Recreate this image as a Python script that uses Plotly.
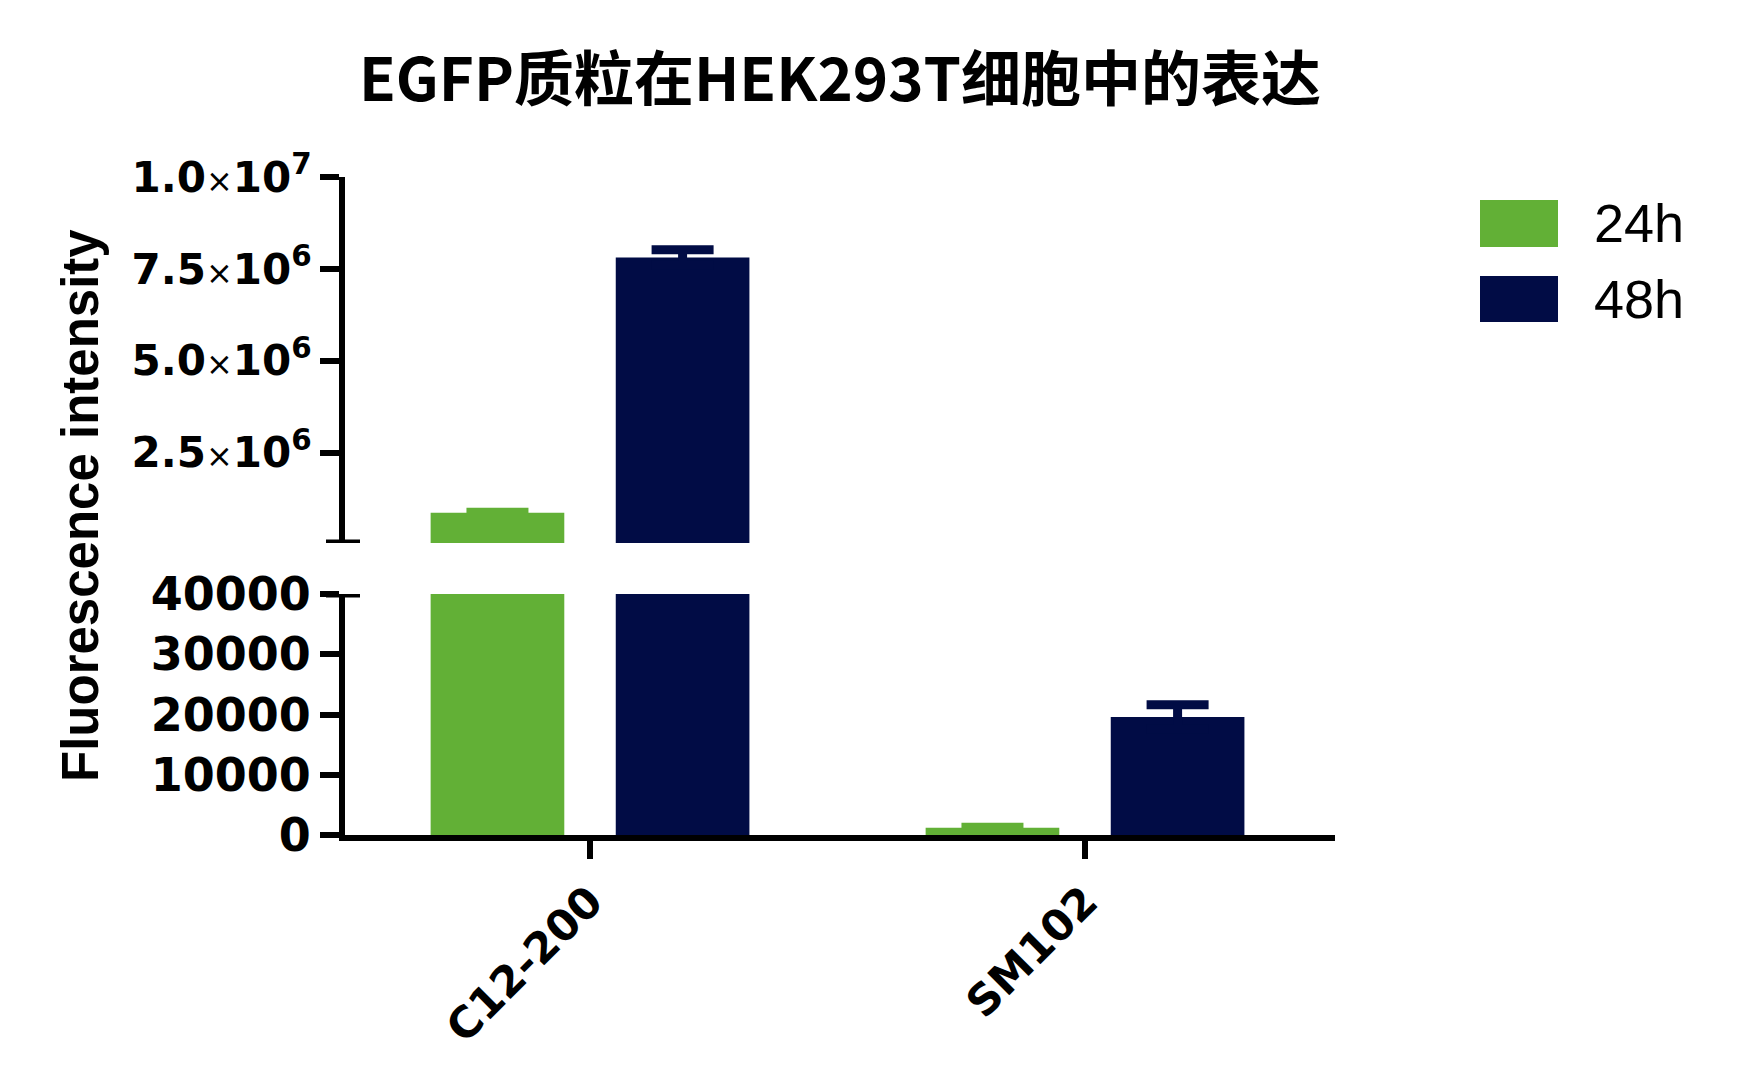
import plotly.graph_objects as go

# ---------------- data ----------------
categories = ["C12-200", "SM102"]
series_names = ["24h", "48h"]
mean_24h = [860000, 1200]
err_24h = [15000, 100]
mean_48h = [7810000, 19600]
err_48h = [210000, 2000]

lower_tick_vals = [0, 10000, 20000, 30000, 40000]
lower_tick_text = ["0", "10000", "20000", "30000", "40000"]
upper_tick_vals = [2.5e6, 5.0e6, 7.5e6, 1.0e7]
upper_mantissa = ["2.5", "5.0", "7.5", "1.0"]
upper_exponent = ["6", "6", "6", "7"]

lower_range = [0, 40000]
upper_range = [40000, 1.0e7]

title_text = "EGFP质粒在HEK293T细胞中的表达"
y_title_text = "Fluorescence intensity"

colors = ["#62B036", "#010C45"]

# ---------------- layout constants ----------------
W, H = 1737, 1088
L, R, T, B = 337, 1327, 169, 827          # plot area in px
lower_top_px = 586
upper_bot_px = 535


def px_x(x):
    return (x - L) / (R - L)


def px_y(y):
    return (B - y) / (B - T)


lower_domain = [0, px_y(lower_top_px)]
upper_domain = [px_y(upper_bot_px), 1]

tick_font = dict(family="DejaVu Sans", size=46, color="black", weight="bold")
upper_tick_font = dict(family="DejaVu Sans", size=42, color="black", weight="bold")
x_tick_font = dict(family="DejaVu Sans", size=43, color="black", weight="bold")

upper_tick_text = [
    f"{m}<span style='font-weight:normal;font-size:32px'>×</span>10<sup>{e}</sup>"
    for m, e in zip(upper_mantissa, upper_exponent)
]

fig = go.Figure()

means = [mean_24h, mean_48h]
errs = [err_24h, err_48h]
for yax, lo in [("y", None), ("y2", upper_range[0])]:
    for name, m, e, c in zip(series_names, means, errs, colors):
        # keep only the bars that reach into this axis segment
        keep = [i for i, mi in enumerate(m) if lo is None or mi > lo]
        fig.add_trace(go.Bar(
            x=[categories[i] for i in keep], y=[m[i] for i in keep], name=name,
            marker=dict(color=c, line=dict(width=0)),
            error_y=dict(type="data", array=[e[i] for i in keep], visible=True,
                         color=c, thickness=9, width=31),
            xaxis="x", yaxis=yax, showlegend=False,
        ))

axis_common = dict(
    showline=True, linewidth=6, linecolor="black",
    ticks="outside", tickwidth=6, tickcolor="black",
    showgrid=False, zeroline=False,
)

fig.update_layout(
    width=W, height=H,
    margin=dict(l=L, r=W - R, t=T, b=H - B, autoexpand=False),
    paper_bgcolor="white", plot_bgcolor="white",
    barmode="group", bargap=0.252, bargroupgap=0.278,
    showlegend=False,
    title=dict(
        text=title_text, x=0.5, xref="paper", xanchor="center",
        y=1 - 72 / H, yref="container", yanchor="middle",
        font=dict(family="Noto Sans CJK SC", size=60, color="black", weight="bold"),
    ),
    xaxis=dict(
        **axis_common, ticklen=18, anchor="y", tickfont=x_tick_font,
        range=[-0.495, 1.505], tickangle=-45,
        categoryorder="array", categoryarray=categories,
    ),
    yaxis=dict(
        **axis_common, ticklen=19, domain=lower_domain, range=lower_range,
        tickvals=lower_tick_vals, ticktext=lower_tick_text, anchor="x",
        tickfont=tick_font,
    ),
    yaxis2=dict(
        **axis_common, ticklen=19, domain=upper_domain, range=upper_range,
        tickvals=upper_tick_vals, ticktext=upper_tick_text, anchor="x",
        tickfont=upper_tick_font,
    ),
)

# axis-break end caps (centred on the y axis line)
for yref, yval in [("y", lower_range[1]), ("y2", upper_range[0])]:
    fig.add_shape(type="line", xref="x domain", yref=yref,
                  xsizemode="pixel", xanchor=0, x0=-19, x1=15,
                  y0=yval, y1=yval, line=dict(color="black", width=7))

# y axis title
fig.add_annotation(
    text=f"<b>{y_title_text}</b>", textangle=-90, xref="paper", yref="paper",
    x=px_x(72), y=0.5, xanchor="center", yanchor="middle", showarrow=False,
    font=dict(family="Liberation Sans", size=51, color="black", weight="bold"),
)

# legend (swatches + labels)
legend_rows = [(192, 239), (268, 314)]
for (y0, y1), name, c in zip(legend_rows, series_names, colors):
    fig.add_shape(type="rect", xref="paper", yref="paper",
                  x0=px_x(1472), x1=px_x(1550), y0=px_y(y1), y1=px_y(y0),
                  fillcolor=c, line=dict(width=0))
    fig.add_annotation(
        text=name, xref="paper", yref="paper", x=px_x(1584), y=px_y((y0 + y1) / 2),
        xanchor="left", yanchor="middle", showarrow=False,
        font=dict(family="Liberation Sans", size=54, color="black"),
    )

fig.write_html("out.html")
